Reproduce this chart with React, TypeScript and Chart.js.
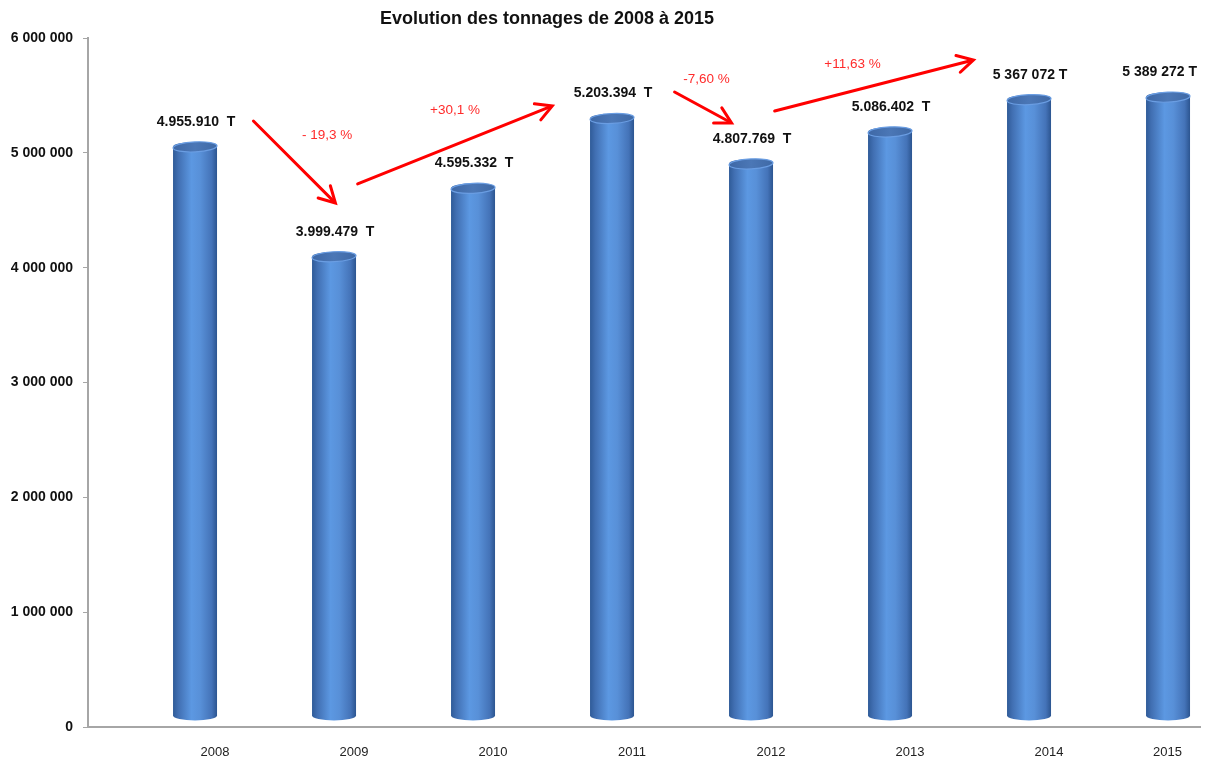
import React, { useEffect, useRef } from 'react';
import { Chart, registerables } from 'chart.js';

Chart.register(...registerables);

const FONT = '"Liberation Sans", Arial, sans-serif';

const titleText = 'Evolution des tonnages de 2008 à 2015';
const years = ['2008', '2009', '2010', '2011', '2012', '2013', '2014', '2015'];
const tonnages = [4955910, 3999479, 4595332, 5203394, 4807769, 5086402, 5367072, 5389272];
const valueLabels = [
  '4.955.910  T',
  '3.999.479  T',
  '4.595.332  T',
  '5.203.394  T',
  '4.807.769  T',
  '5.086.402  T',
  '5 367 072 T',
  '5 389 272 T',
];
const yTicks = [0, 1000000, 2000000, 3000000, 4000000, 5000000, 6000000];
const yTickLabels = ['0', '1 000 000', '2 000 000', '3 000 000', '4 000 000', '5 000 000', '6 000 000'];

// Annotation arrows (data space: x = category index, y = tonnes)
const changeLabels = ['- 19,3 %', '+30,1 %', '-7,60 %', '+11,63 %'];
const arrowFromX = [0.42, 1.17, 3.45, 4.17];
const arrowFromY = [5277000, 4729000, 5530000, 5364000];
const arrowToX = [1.01, 2.57, 3.86, 5.6];
const arrowToY = [4563000, 5408000, 5260000, 5809000];
const changeLabelX = [0.95, 1.87, 3.68, 4.73];
const changeLabelY = [5155000, 5373000, 5643000, 5774000];

const cylinderPlugin = {
  id: 'cylinders',
  afterDatasetsDraw(chart: any) {
    const ctx: CanvasRenderingContext2D = chart.ctx;
    const meta = chart.getDatasetMeta(0);
    const depth = 11;
    meta.data.forEach((bar: any, i: number) => {
      const p = bar.getProps(['x', 'y', 'base', 'width'], true);
      const w = p.width;
      const rx = w / 2;
      const ry = 5;
      const cx = p.x;
      const top = p.y - depth;
      const bot = p.base - depth;
      const left = cx - rx;
      ctx.save();
      const g = ctx.createLinearGradient(left, 0, left + w, 0);
      g.addColorStop(0, '#2f5b98');
      g.addColorStop(0.12, '#416fb2');
      g.addColorStop(0.42, '#5c98e2');
      g.addColorStop(0.62, '#5890d8');
      g.addColorStop(0.88, '#4473b8');
      g.addColorStop(1, '#2c5590');
      ctx.beginPath();
      ctx.moveTo(left, top);
      ctx.lineTo(left, bot);
      ctx.ellipse(cx, bot, rx, ry, 0, Math.PI, 0, true);
      ctx.lineTo(left + w, top);
      ctx.ellipse(cx, top, rx, ry, 0, 0, Math.PI, true);
      ctx.closePath();
      ctx.fillStyle = g;
      ctx.fill();
      // top cap
      const cg = ctx.createLinearGradient(left, 0, left + w, 0);
      cg.addColorStop(0, '#3e68a6');
      cg.addColorStop(0.5, '#4b77b6');
      cg.addColorStop(1, '#3f69a6');
      ctx.beginPath();
      ctx.ellipse(cx, top, rx, ry, -0.05, 0, Math.PI * 2);
      ctx.fillStyle = cg;
      ctx.fill();
      ctx.lineWidth = 1.2;
      ctx.strokeStyle = '#6a9de2';
      ctx.stroke();
      ctx.restore();

      // value label
      ctx.save();
      ctx.font = `bold 14px ${FONT}`;
      ctx.fillStyle = '#111111';
      ctx.textAlign = 'center';
      ctx.textBaseline = 'middle';
      const tw = ctx.measureText(valueLabels[i]).width;
      const lx = Math.min(cx + 1, chart.width - 10 - tw / 2);
      ctx.fillText(valueLabels[i], lx, p.y - 36);
      ctx.restore();
    });
  },
  afterDraw(chart: any) {
    const ctx: CanvasRenderingContext2D = chart.ctx;
    const xs = chart.scales.x;
    const ys = chart.scales.y;
    ctx.save();
    // category labels (shifted like the 3D projection, kept inside the plot)
    ctx.font = `13px ${FONT}`;
    ctx.fillStyle = '#222222';
    ctx.textAlign = 'center';
    ctx.textBaseline = 'middle';
    years.forEach((yr, i) => {
      const tw = ctx.measureText(yr).width;
      const lx = Math.min(xs.getPixelForValue(i) + 20, chart.chartArea.right - 18 - tw / 2);
      ctx.fillText(yr, lx, chart.chartArea.bottom + 25);
    });
    // arrows
    changeLabels.forEach((lab, i) => {
      const x1 = xs.getPixelForValue(arrowFromX[i]);
      const y1 = ys.getPixelForValue(arrowFromY[i]);
      const x2 = xs.getPixelForValue(arrowToX[i]);
      const y2 = ys.getPixelForValue(arrowToY[i]);
      const ang = Math.atan2(y2 - y1, x2 - x1);
      const head = 18;
      const spread = 0.5;
      ctx.strokeStyle = '#ff0000';
      ctx.lineWidth = 3;
      ctx.lineCap = 'round';
      ctx.lineJoin = 'miter';
      ctx.beginPath();
      ctx.moveTo(x1, y1);
      ctx.lineTo(x2 - Math.cos(ang) * 2, y2 - Math.sin(ang) * 2);
      ctx.stroke();
      ctx.beginPath();
      ctx.moveTo(x2 - head * Math.cos(ang - spread), y2 - head * Math.sin(ang - spread));
      ctx.lineTo(x2, y2);
      ctx.lineTo(x2 - head * Math.cos(ang + spread), y2 - head * Math.sin(ang + spread));
      ctx.stroke();

      ctx.font = `13.5px ${FONT}`;
      ctx.fillStyle = '#ff2b2b';
      ctx.textAlign = 'center';
      ctx.textBaseline = 'middle';
      ctx.fillText(lab, xs.getPixelForValue(changeLabelX[i]), ys.getPixelForValue(changeLabelY[i]));
    });
    // title
    ctx.font = `bold 18px ${FONT}`;
    ctx.fillStyle = '#111111';
    ctx.textAlign = 'center';
    ctx.textBaseline = 'middle';
    ctx.fillText(titleText, 547, 19);
    ctx.restore();
  },
};

export default function App() {
  const canvasRef = useRef<HTMLCanvasElement | null>(null);

  useEffect(() => {
    if (!canvasRef.current) return;
    const chart = new Chart(canvasRef.current, {
      type: 'bar',
      data: {
        datasets: [
          {
            data: tonnages.map((v, i) => ({ x: i, y: v })) as any,
            backgroundColor: 'rgba(0,0,0,0)',
            borderWidth: 0,
            barThickness: 44,
          },
        ],
      },
      options: {
        animation: false,
        responsive: true,
        maintainAspectRatio: false,
        layout: { padding: { top: 38, right: 7, left: 0, bottom: 0 } },
        plugins: {
          legend: { display: false },
          title: { display: false },
          tooltip: { enabled: false },
        },
        scales: {
          x: {
            type: 'linear',
            offset: false,
            min: -0.77,
            max: 7.23,
            afterBuildTicks: (s: any) => {
              s.ticks = years.map((_, i) => ({ value: i }));
            },
            afterFit: (s: any) => {
              s.height = 35;
            },
            ticks: { display: false },
            grid: { display: false },
            border: { display: true, color: '#a6a6a6', width: 2 },
          },
          y: {
            min: 0,
            max: 6000000,
            afterBuildTicks: (s: any) => {
              s.ticks = yTicks.map((v) => ({ value: v }));
            },
            afterFit: (s: any) => {
              s.width = 88;
            },
            ticks: {
              callback: (v: any) => yTickLabels[yTicks.indexOf(v)] ?? '',
              padding: 10,
              color: '#111111',
              font: { family: FONT, size: 14, weight: 'bold' },
            },
            grid: {
              drawOnChartArea: false,
              drawTicks: true,
              tickLength: 5,
              color: '#a6a6a6',
            },
            border: { display: true, color: '#a6a6a6', width: 2 },
          },
        },
      } as any,
      plugins: [cylinderPlugin],
    });
    return () => chart.destroy();
  }, []);

  return (
    <div style={{ position: 'absolute', left: 0, top: 0, width: 1207, height: 762, background: '#ffffff' }}>
      <canvas ref={canvasRef} />
    </div>
  );
}
